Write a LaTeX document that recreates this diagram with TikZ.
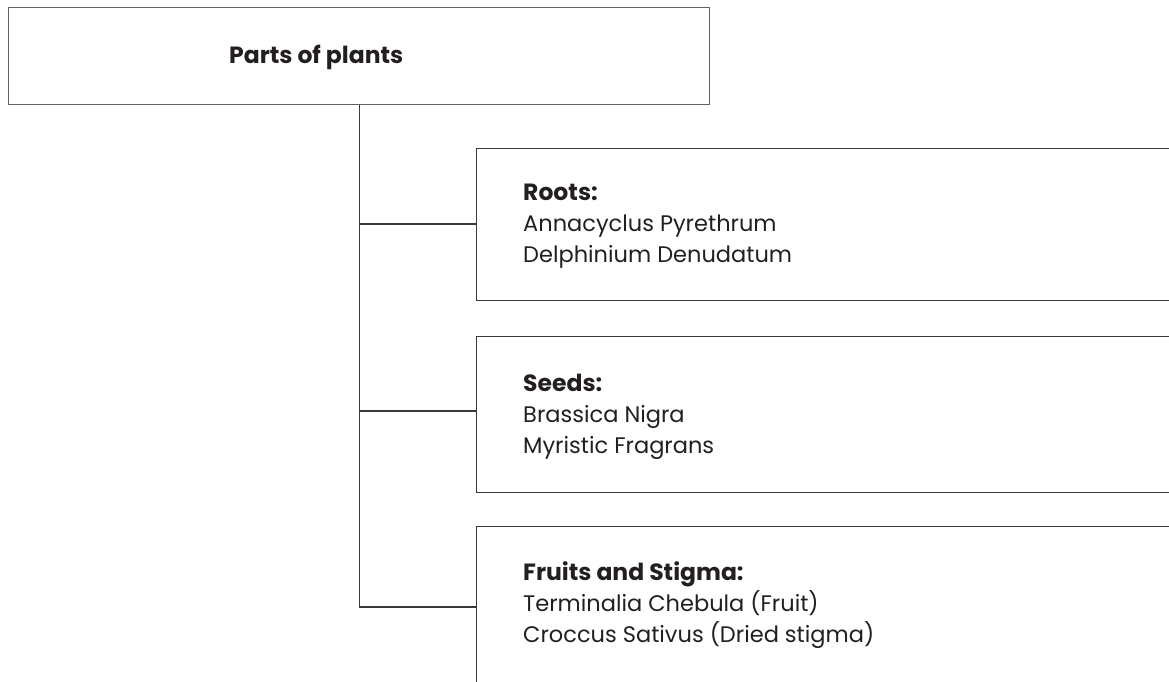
\documentclass[tikz,border=0pt]{standalone}
\usepackage{fontspec}
\setmainfont{Poppins}
\usetikzlibrary{calc}
\definecolor{ink}{HTML}{231F20}
\definecolor{edge}{HTML}{3A3A3A}
\newcommand{\head}[1]{{\fontsize{23.5}{31}\selectfont\bfseries #1}}
\begin{document}
\begin{tikzpicture}[x=1pt,y=-1pt,
  box/.style={draw=edge,line width=1.3pt,rectangle,anchor=north west,inner sep=0pt,minimum width=720pt},
  entry/.style={anchor=base west,inner sep=0pt,align=left,text=ink,font=\fontsize{22.5}{31}\selectfont},
  link/.style={draw=edge,line width=1.3pt}]
\useasboundingbox (0,0) rectangle (1169,682);
\clip (0,0) rectangle (1169,682);
\node[box,draw=edge!80,minimum width=701pt,minimum height=97pt] (plants) at (8,7) {};
\node[entry] (plantslabel) at (229,64) {\head{Parts of plants}};
% boxes, cut off at the right
\node[box,minimum height=152pt] (roots) at (476,148) {};
\node[box,minimum height=156pt] (seeds) at (476,336) {};
\node[box,minimum height=200pt] (fruits) at (476,526) {};
% base anchor sits on the last line
\node[entry] (rootslabel) at (523,262) {\head{Roots:}\\Annacyclus Pyrethrum\\Delphinium Denudatum};
\node[entry] (seedslabel) at (523,453) {\head{Seeds:}\\Brassica Nigra\\Myristic Fragrans};
\node[entry] (fruitslabel) at (523,642) {\head{Fruits and Stigma:}\\Terminalia Chebula (Fruit)\\Croccus Sativus (Dried stigma)};
% tree lines
\coordinate (r) at ($(roots.north west)+(0,76)$);
\coordinate (s) at ($(seeds.north west)+(0,75)$);
\coordinate (f) at ($(fruits.north west)+(0,81)$);
\draw[link] (plants.south) |- (f);
\draw[link] (plants.south |- r) -- (r);
\draw[link] (plants.south |- s) -- (s);
\end{tikzpicture}
\end{document}
